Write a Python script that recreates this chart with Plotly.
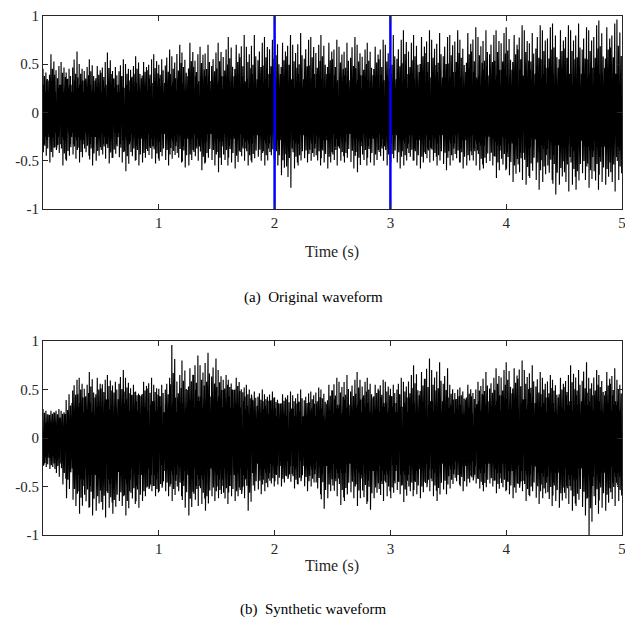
import plotly.graph_objects as go

# ---- data (peak values per 0.05 s bin) ----
bin_width = 0.05
a_upper_peaks = [0.45, 0.60, 0.48, 0.52, 0.45, 0.63, 0.50, 0.47, 0.55, 0.48,
                 0.52, 0.62, 0.47, 0.55, 0.50, 0.48, 0.58, 0.52, 0.55, 0.60,
                 0.55, 0.65, 0.58, 0.70, 0.62, 0.72, 0.60, 0.68, 0.70, 0.62,
                 0.72, 0.65, 0.78, 0.70, 0.80, 0.68, 0.80, 0.72, 0.78, 0.75,
                 0.82, 0.72, 0.80, 0.70, 0.82, 0.75, 0.78, 0.70, 0.80, 0.72,
                 0.75, 0.68, 0.72, 0.78, 0.70, 0.65, 0.72, 0.68, 0.75, 0.70,
                 0.80, 0.75, 0.85, 0.72, 0.80, 0.78, 0.85, 0.75, 0.82, 0.78,
                 0.80, 0.85, 0.75, 0.82, 0.88, 0.78, 0.85, 0.80, 0.85, 0.82,
                 0.88, 0.80, 0.90, 0.85, 0.82, 0.90, 0.85, 0.88, 0.92, 0.85,
                 0.90, 0.85, 0.92, 0.88, 0.85, 0.90, 0.95, 0.88, 0.92, 0.96]
a_lower_peaks = [-0.45, -0.52, -0.42, -0.55, -0.50, -0.48, -0.52, -0.45, -0.55, -0.50,
                 -0.48, -0.53, -0.47, -0.52, -0.61, -0.50, -0.55, -0.52, -0.48, -0.53,
                 -0.50, -0.55, -0.48, -0.52, -0.57, -0.55, -0.50, -0.60, -0.52, -0.55,
                 -0.62, -0.55, -0.52, -0.58, -0.50, -0.55, -0.52, -0.50, -0.55, -0.48,
                 -0.55, -0.65, -0.78, -0.58, -0.55, -0.52, -0.50, -0.55, -0.52, -0.58,
                 -0.55, -0.50, -0.52, -0.58, -0.62, -0.55, -0.52, -0.55, -0.50, -0.55,
                 -0.52, -0.58, -0.55, -0.50, -0.55, -0.58, -0.52, -0.50, -0.55, -0.60,
                 -0.55, -0.52, -0.58, -0.55, -0.55, -0.60, -0.58, -0.55, -0.68, -0.60,
                 -0.65, -0.72, -0.70, -0.75, -0.68, -0.80, -0.72, -0.70, -0.85, -0.75,
                 -0.82, -0.75, -0.80, -0.70, -0.78, -0.80, -0.72, -0.75, -0.82, -0.70]
b_upper_peaks = [0.30, 0.28, 0.30, 0.28, 0.45, 0.60, 0.62, 0.55, 0.68, 0.62,
                 0.60, 0.65, 0.58, 0.70, 0.62, 0.55, 0.48, 0.58, 0.62, 0.55,
                 0.55, 0.62, 0.96, 0.65, 0.80, 0.72, 0.85, 0.75, 0.88, 0.82,
                 0.70, 0.65, 0.60, 0.62, 0.52, 0.55, 0.48, 0.50, 0.45, 0.48,
                 0.42, 0.45, 0.48, 0.44, 0.50, 0.46, 0.48, 0.52, 0.50, 0.55,
                 0.62, 0.58, 0.65, 0.60, 0.68, 0.58, 0.62, 0.55, 0.60, 0.58,
                 0.55, 0.62, 0.58, 0.65, 0.75, 0.68, 0.82, 0.70, 0.78, 0.72,
                 0.55, 0.50, 0.52, 0.55, 0.50, 0.58, 0.68, 0.62, 0.72, 0.70,
                 0.78, 0.72, 0.80, 0.70, 0.75, 0.68, 0.62, 0.65, 0.60, 0.62,
                 0.65, 0.75, 0.70, 0.78, 0.62, 0.70, 0.65, 0.68, 0.72, 0.60]
b_lower_peaks = [-0.30, -0.32, -0.40, -0.48, -0.62, -0.70, -0.78, -0.72, -0.80, -0.75,
                 -0.82, -0.72, -0.78, -0.70, -0.80, -0.68, -0.72, -0.65, -0.55, -0.60,
                 -0.55, -0.60, -0.65, -0.60, -0.72, -0.80, -0.70, -0.68, -0.75, -0.65,
                 -0.62, -0.68, -0.60, -0.65, -0.62, -0.75, -0.60, -0.58, -0.55, -0.50,
                 -0.48, -0.50, -0.45, -0.52, -0.48, -0.55, -0.50, -0.58, -0.73, -0.62,
                 -0.60, -0.69, -0.65, -0.62, -0.70, -0.68, -0.74, -0.62, -0.65, -0.60,
                 -0.62, -0.58, -0.66, -0.60, -0.58, -0.62, -0.55, -0.60, -0.65, -0.58,
                 -0.52, -0.48, -0.55, -0.50, -0.47, -0.52, -0.55, -0.50, -0.57, -0.55,
                 -0.58, -0.62, -0.55, -0.65, -0.60, -0.68, -0.62, -0.70, -0.65, -0.72,
                 -0.68, -0.75, -0.70, -0.80, -1.00, -0.78, -0.72, -0.75, -0.70, -0.65]
# dense core band per 0.25 s
core_width = 0.25
a_core_upper = [0.30, 0.30, 0.30, 0.32, 0.32, 0.34, 0.34, 0.36, 0.36, 0.36,
                0.35, 0.35, 0.36, 0.38, 0.38, 0.40, 0.40, 0.42, 0.42, 0.42]
a_core_lower = [-0.30, -0.30, -0.30, -0.32, -0.32, -0.32, -0.32, -0.34, -0.34, -0.34,
                -0.32, -0.32, -0.34, -0.34, -0.34, -0.36, -0.38, -0.40, -0.42, -0.42]
b_core_upper = [0.22, 0.38, 0.42, 0.40, 0.38, 0.45, 0.45, 0.35, 0.32, 0.32,
                0.36, 0.38, 0.38, 0.40, 0.36, 0.40, 0.42, 0.38, 0.40, 0.40]
b_core_lower = [-0.24, -0.45, -0.50, -0.45, -0.40, -0.45, -0.45, -0.38, -0.34, -0.34,
                -0.38, -0.40, -0.40, -0.38, -0.34, -0.38, -0.40, -0.42, -0.45, -0.42]
marker_times = [2, 3]
x_ticks = [1, 2, 3, 4, 5]
y_ticks = [1, 0.5, 0, -0.5, -1]
y_tick_text = ["1", "0.5", "0", "-0.5", "-1"]
captions = ["(a)  Original waveform", "(b)  Synthetic waveform"]


def waveform(up, lo, cu, cl):
    """Alternate strokes between the read peak/core levels of each bin."""
    xs, ys = [], []
    n_up = 8
    for i in range(len(up)):
        k = min(int(i * bin_width / core_width), len(cu) - 1)
        pu, pl, u, l = up[i], lo[i], cu[k], cl[k]
        ups = [pu, 0.95 * u, 0.5 * (pu + u), 0.7 * u,
               0.75 * pu + 0.25 * u, 1.1 * u, 0.3 * pu + 0.7 * u, 0.85 * u]
        los = [pl, 0.95 * l, 0.5 * (pl + l), 0.7 * l,
               0.75 * pl + 0.25 * l, 1.1 * l, 0.3 * pl + 0.7 * l, 0.85 * l]
        ro_u = (i * 5) % n_up
        ro_l = (i * 3 + 4) % n_up
        ups = ups[ro_u:] + ups[:ro_u]
        los = los[ro_l:] + los[:ro_l]
        step = bin_width / (2 * n_up)
        for j in range(n_up):
            xs.append(i * bin_width + (2 * j) * step)
            ys.append(ups[j])
            xs.append(i * bin_width + (2 * j + 1) * step)
            ys.append(los[j])
    return xs, ys


fig = go.Figure()
xa, ya = waveform(a_upper_peaks, a_lower_peaks, a_core_upper, a_core_lower)
xb, yb = waveform(b_upper_peaks, b_lower_peaks, b_core_upper, b_core_lower)
fig.add_trace(go.Scatter(x=xa, y=ya, mode="lines", line=dict(color="black", width=1.15),
                         xaxis="x", yaxis="y", showlegend=False, hoverinfo="skip"))
for t in marker_times:
    fig.add_trace(go.Scatter(x=[t, t], y=[-1, 1], mode="lines",
                             line=dict(color="#0000ff", width=2.5),
                             xaxis="x", yaxis="y", showlegend=False, hoverinfo="skip"))
fig.add_trace(go.Scatter(x=xb, y=yb, mode="lines", line=dict(color="black", width=1.15),
                         xaxis="x2", yaxis="y2", showlegend=False, hoverinfo="skip"))

W, H = 625, 630
serif = "Liberation Serif"
font = dict(family=serif, size=15, color="#262626")
common_x = dict(range=[0, 5], tickvals=x_ticks, ticks="inside", ticklen=5, tickwidth=0.8,
                tickcolor="#262626", showline=True, linecolor="#262626", linewidth=0.8,
                mirror="ticks", showgrid=False, zeroline=False, tickfont=font,
                domain=[0, 1], automargin=False, ticklabeloverflow="allow")
common_y = dict(range=[-1, 1], tickvals=y_ticks, ticktext=y_tick_text, ticks="inside",
                ticklen=5, tickwidth=0.8, tickcolor="#262626", showline=True,
                linecolor="#262626", linewidth=0.8, mirror="ticks", showgrid=False,
                zeroline=False, tickfont=font, automargin=False)

L, R = 43, 3
pw = W - L - R


def px_x(p):
    return (p - L) / pw


fig.update_layout(
    width=W, height=H, margin=dict(l=L, r=R, t=0, b=0, autoexpand=False),
    paper_bgcolor="white", plot_bgcolor="white", font=font,
    xaxis=dict(common_x, anchor="y"),
    yaxis=dict(common_y, anchor="x", domain=[1 - 209 / H, 1 - 15.7 / H]),
    xaxis2=dict(common_x, anchor="y2"),
    yaxis2=dict(common_y, anchor="x2", domain=[1 - 535 / H, 1 - 341 / H]),
    annotations=[
        dict(text="Time (s)", x=px_x(332), y=1 - 252 / H, xref="paper", yref="paper",
             showarrow=False, font=dict(family=serif, size=16, color="#262626")),
        dict(text="Time (s)", x=px_x(332), y=1 - 577 / H, xref="paper", yref="paper",
             showarrow=False, font=dict(family=serif, size=16, color="#262626")),
        dict(text=captions[0], x=px_x(313), y=1 - 297 / H, xref="paper", yref="paper",
             showarrow=False, font=dict(family=serif, size=15, color="black")),
        dict(text=captions[1], x=px_x(313), y=1 - 620 / H, xref="paper", yref="paper",
             showarrow=False, font=dict(family=serif, size=15, color="black")),
    ],
)
fig.write_html(
    "out.html",
    config={"displayModeBar": False},
    post_script="document.body.style.margin='0';document.body.style.overflow='hidden';",
)
